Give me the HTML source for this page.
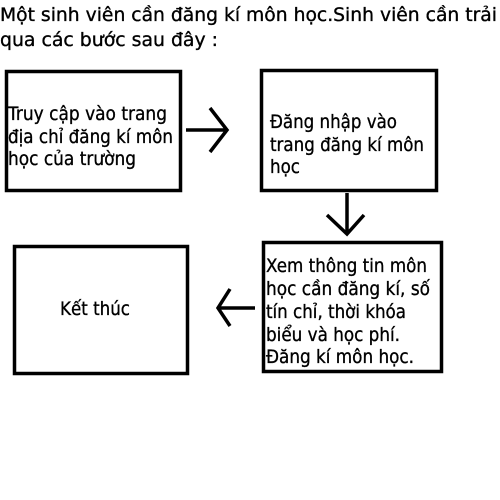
<!DOCTYPE html>
<html><head><meta charset="utf-8"><style>html,body{margin:0;padding:0;background:#fff;width:500px;height:500px;overflow:hidden}</style></head>
<body>
<svg width="500" height="500" xmlns="http://www.w3.org/2000/svg" font-family="'DejaVu Sans','Liberation Sans',sans-serif" font-size="19" fill="#000">
<g fill="none" stroke="#000" stroke-width="3.5">
<rect x="6.5" y="71.5" width="174" height="119"/>
<rect x="261.5" y="70.5" width="175" height="120"/>
<rect x="263.5" y="242.5" width="178" height="129"/>
<rect x="14.5" y="246.5" width="173" height="127"/>
<path d="M186 130H227M210 108L227 130L210 152"/>
<path d="M347 193V234M327 215L347 234L364 215"/>
<path d="M218 308H255M230 289L218 308L230 326"/>
</g>
<g stroke="#000" stroke-width="0.35">
<text x="0" y="21" textLength="497" lengthAdjust="spacingAndGlyphs">Một sinh viên cần đăng kí môn học.Sinh viên cần trải</text>
<text x="0" y="46" textLength="218" lengthAdjust="spacingAndGlyphs">qua các bước sau đây :</text>
<text x="8" y="120" textLength="159" lengthAdjust="spacingAndGlyphs">Truy cập vào trang</text>
<text x="8" y="143" textLength="165" lengthAdjust="spacingAndGlyphs">địa chỉ đăng kí môn</text>
<text x="8" y="165" textLength="128" lengthAdjust="spacingAndGlyphs">học của trường</text>
<text x="270" y="128" textLength="127" lengthAdjust="spacingAndGlyphs">Đăng nhập vào</text>
<text x="270" y="151" textLength="154" lengthAdjust="spacingAndGlyphs">trang đăng kí môn</text>
<text x="270" y="173" textLength="30" lengthAdjust="spacingAndGlyphs">học</text>
<text x="266" y="272" textLength="161" lengthAdjust="spacingAndGlyphs">Xem thông tin môn</text>
<text x="266" y="295" textLength="164" lengthAdjust="spacingAndGlyphs">học cần đăng kí, số</text>
<text x="266" y="318" textLength="140" lengthAdjust="spacingAndGlyphs">tín chỉ, thời khóa</text>
<text x="266" y="341" textLength="134" lengthAdjust="spacingAndGlyphs">biểu và học phí.</text>
<text x="266" y="363" textLength="148" lengthAdjust="spacingAndGlyphs">Đăng kí môn học.</text>
<text x="60" y="315" textLength="70" lengthAdjust="spacingAndGlyphs">Kết thúc</text>
</g>
</svg>
</body></html>
